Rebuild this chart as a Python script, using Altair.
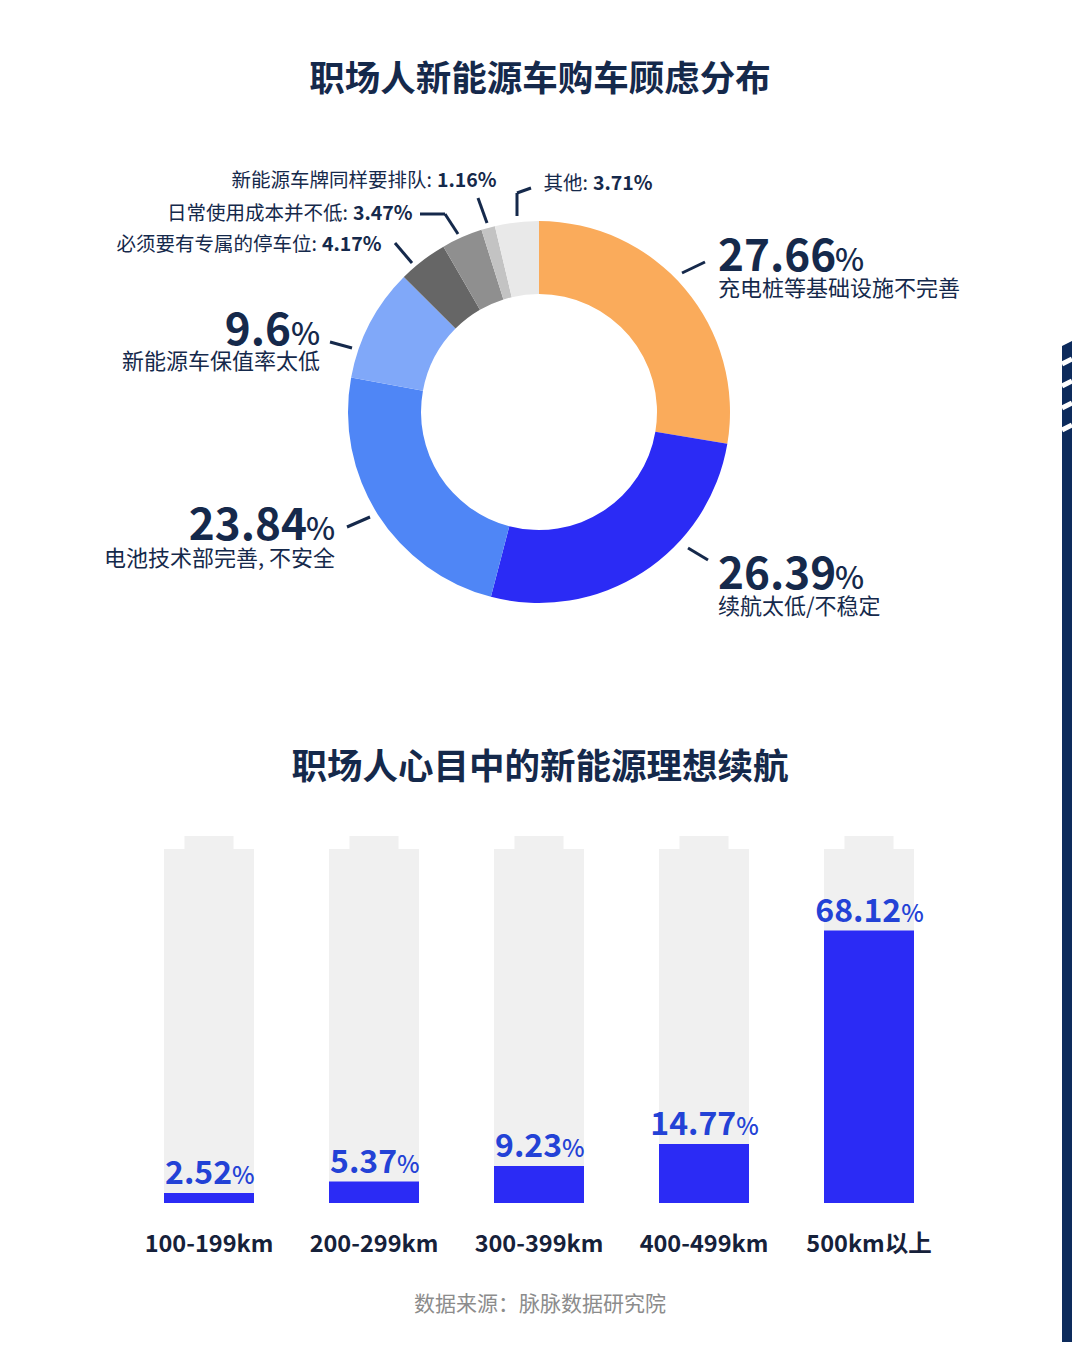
import altair as alt
import pandas as pd

W, H = 1064, 1334
OFF = 8
FONT = "Noto Sans CJK SC"
NAVY = "#15294B"

# ---------------- data ----------------
donut_cats = ["充电桩等基础设施不完善", "续航太低/不稳定", "电池技术部完善, 不安全", "新能源车保值率太低",
              "必须要有专属的停车位", "日常使用成本并不低", "新能源车牌同样要排队", "其他"]
donut_vals = [27.66, 26.39, 23.84, 9.6, 4.17, 3.47, 1.16, 3.71]
donut_colors = ["#FAAB5B", "#2B2BF5", "#4F86F6", "#80A8F9", "#666666", "#8F8F8F", "#C3C3C3", "#E9E9E9"]

range_cats = ["100-199km", "200-299km", "300-399km", "400-499km", "500km以上"]
range_vals = [2.52, 5.37, 9.23, 14.77, 68.12]

title1 = "职场人新能源车购车顾虑分布"
title2 = "职场人心目中的新能源理想续航"
source = "数据来源：脉脉数据研究院"

# ---------------- layout (page pixels) ----------------
CX, CY, R_OUT, R_IN = 539, 412, 191, 118
big_layout = {  # idx: side, anchor x, junction x, number baseline, category middle
    0: ("R", 718, 835, 271, 289),
    1: ("R", 718, 835, 589, 607),
    2: ("L", 335, 307, 540, 559),
    3: ("L", 320, 291, 345, 362),
}
small_layout = {4: (322, 245), 5: (353, 214), 6: (437, 181), 7: (593, 184)}
leaders = [((682, 273), (705, 262)), ((688, 548), (708, 560)), ((347, 527), (370, 517)),
           ((330, 342), (352, 348)), ((395, 243), (412, 263)), ((420, 214), (445, 214)),
           ((445, 214), (458, 234)), ((478, 198), (487, 223)), ((517, 216), (517, 193)),
           ((517, 193), (531, 188))]


def fmt(v):
    return f"{v:g}"


def PX(f):
    return alt.X(f"{f}:Q", scale=alt.Scale(domain=[0, W], nice=False, zero=False), axis=None)


def PY(f):
    return alt.Y(f"{f}:Q", scale=alt.Scale(domain=[0, H], nice=False, zero=False, reverse=True), axis=None)


donut_df = pd.DataFrame({"cat": donut_cats, "value": donut_vals, "idx": range(len(donut_cats))})

arc = alt.Chart(donut_df).mark_arc(outerRadius=R_OUT, innerRadius=R_IN, strokeWidth=0).encode(
    theta=alt.Theta("value:Q", stack=True),
    color=alt.Color("cat:N", scale=alt.Scale(domain=donut_cats, range=donut_colors), legend=None),
    order=alt.Order("idx:Q"),
    x=alt.value(CX - OFF),
    y=alt.value(CY - OFF),
)

rows = []
for i, (side, ax, jx, by, cy) in big_layout.items():
    rows.append(dict(side=side, num=fmt(donut_vals[i]), cat=donut_cats[i],
                     ax=ax - OFF, jx=jx - OFF, by=by - OFF, cy=cy - OFF))
big_df = pd.DataFrame(rows)

layers_big = []
for side in ["R", "L"]:
    d = big_df[big_df.side == side]
    base = alt.Chart(d)
    if side == "R":
        num = base.mark_text(align="left", baseline="alphabetic", font=FONT, fontSize=44,
                             fontWeight="bold", color=NAVY).encode(x=PX("ax"), y=PY("by"), text="num:N")
        pct = base.mark_text(align="left", baseline="alphabetic", font=FONT, fontSize=31,
                             fontWeight=500, color=NAVY).encode(x=PX("jx"), y=PY("by"), text=alt.value("%"))
        cat = base.mark_text(align="left", baseline="middle", font=FONT, fontSize=22,
                             color=NAVY).encode(x=PX("ax"), y=PY("cy"), text="cat:N")
    else:
        num = base.mark_text(align="right", baseline="alphabetic", font=FONT, fontSize=44,
                             fontWeight="bold", color=NAVY).encode(x=PX("jx"), y=PY("by"), text="num:N")
        pct = base.mark_text(align="right", baseline="alphabetic", font=FONT, fontSize=31,
                             fontWeight=500, color=NAVY).encode(x=PX("ax"), y=PY("by"), text=alt.value("%"))
        cat = base.mark_text(align="right", baseline="middle", font=FONT, fontSize=22,
                             color=NAVY).encode(x=PX("ax"), y=PY("cy"), text="cat:N")
    layers_big += [num, pct, cat]

srows = []
for i, (jx, y) in small_layout.items():
    srows.append(dict(cat=donut_cats[i] + ":", pct=fmt(donut_vals[i]) + "%", jx=jx - OFF, jc=jx - OFF - 5, y=y - OFF))
small_df = pd.DataFrame(srows)
small_cat = alt.Chart(small_df).mark_text(align="right", baseline="middle", font=FONT, fontSize=19.5,
                                          color=NAVY).encode(x=PX("jc"), y=PY("y"), text="cat:N")
small_pct = alt.Chart(small_df).mark_text(align="left", baseline="middle", font=FONT, fontSize=19.5,
                                          fontWeight="bold", color=NAVY).encode(x=PX("jx"), y=PY("y"), text="pct:N")

lead_df = pd.DataFrame([dict(x=a[0] - OFF, y=a[1] - OFF, x2=b[0] - OFF, y2=b[1] - OFF) for a, b in leaders])
lead = alt.Chart(lead_df).mark_rule(color=NAVY, strokeWidth=3, strokeCap="butt").encode(
    x=PX("x"), y=PY("y"), x2="x2:Q", y2="y2:Q")

titles_df = pd.DataFrame({"t": [title1, title2], "x": [540 - OFF, 540 - OFF], "y": [80 - OFF, 768 - OFF]})
titles = alt.Chart(titles_df).mark_text(align="center", baseline="middle", font=FONT, fontSize=35.5,
                                        fontWeight="bold", color=NAVY).encode(x=PX("x"), y=PY("y"), text="t:N")

src_df = pd.DataFrame({"t": [source], "x": [540 - OFF], "y": [1305 - OFF]})
src = alt.Chart(src_df).mark_text(align="center", baseline="middle", font=FONT, fontSize=21,
                                  color="#8C8C8C").encode(x=PX("x"), y=PY("y"), text="t:N")

# right edge stripe decoration
SX0, SX1 = 1062, 1072
stripe_df = pd.DataFrame({"sx": [SX0 - OFF, SX1 - OFF], "sy": [346 - OFF, 341 - OFF], "sy2": [H, H]})
stripe = alt.Chart(stripe_df).mark_area(color="#0D2B5C").encode(x=PX("sx"), y=PY("sy"), y2="sy2:Q")
sl_df = pd.DataFrame([dict(x=SX0 - OFF, y=y0 - OFF, x2=SX1 - OFF, y2=y0 - 5 - OFF) for y0 in [364, 386, 408, 430]])
slashes = alt.Chart(sl_df).mark_rule(color="white", strokeWidth=5, strokeCap="butt").encode(
    x=PX("x"), y=PY("y"), x2="x2:Q", y2="y2:Q")

# ---------------- battery bars ----------------
BODY = 88.5
CAP = 3.25
BANDW = 90
bar_df = pd.DataFrame({"cat": range_cats, "value": range_vals})
bar_df["num"] = bar_df["value"].map(fmt)
# junction offset (from band start) so that number+% sits centred over the battery
bar_df["off"] = bar_df["num"].map(
    lambda s: BANDW / 2 + (sum(8.6 if c == "." else 18.2 for c in s) - 21) / 2 + 2)

xb = alt.X("cat:N", sort=range_cats, axis=None,
           scale=alt.Scale(domain=range_cats, range=[126.5 - OFF, 951.5 - OFF],
                           paddingInner=75 / 165, paddingOuter=75 / 330))
ybs = alt.Scale(domain=[0, 100], range=[1203 - OFF, 1203 - OFF - 400], nice=False)
xoff = alt.XOffset("off:Q", scale=alt.Scale(domain=[-200, 200], range=[-200, 200]))

bc = alt.Chart(bar_df)
body = bc.mark_bar(color="#F0F0F0").encode(
    x=xb, y=alt.YDatum(BODY, scale=ybs, axis=None, type="quantitative"), y2=alt.Y2Datum(0))
cap = bc.mark_bar(color="#F0F0F0", width=49).encode(
    x=xb, y=alt.YDatum(BODY, scale=ybs, axis=None, type="quantitative"), y2=alt.Y2Datum(BODY + CAP))
bars = bc.mark_bar(color="#2B2BF5").encode(
    x=xb, y=alt.Y("value:Q", scale=ybs, axis=None), y2=alt.Y2Datum(0))
vnum = bc.mark_text(align="right", baseline="alphabetic", dy=-9, font=FONT, fontSize=32,
                    fontWeight="bold", color="#2342D6").encode(
    x=xb, xOffset=xoff, y=alt.Y("value:Q", scale=ybs, axis=None), text="num:N")
vpct = bc.mark_text(align="left", baseline="alphabetic", dy=-9, font=FONT, fontSize=24,
                    fontWeight=500, color="#2342D6").encode(
    x=xb, xOffset=xoff, y=alt.Y("value:Q", scale=ybs, axis=None), text=alt.value("%"))
xlab = bc.mark_text(baseline="middle", font=FONT, fontSize=23.5, fontWeight="bold", color="#16213A").encode(
    x=xb, y=alt.value(1245 - OFF), text="cat:N")

chart = alt.layer(
    stripe, slashes, arc, lead, *layers_big, small_cat, small_pct, titles,
    body, cap, bars, vnum, vpct, xlab, src
).resolve_scale(x="independent", y="independent", xOffset="independent").properties(
    width=W, height=H, autosize="none", padding=0, background="white"
).configure_view(strokeWidth=0)

chart.save("out.html", embed_options={"renderer": "svg", "actions": False})
